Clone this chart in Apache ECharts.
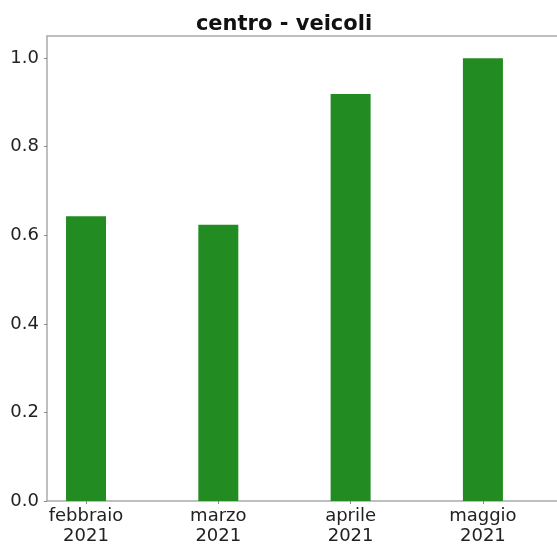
<!DOCTYPE html>
<html>
<head>
<meta charset="utf-8">
<script src="https://cdn.jsdelivr.net/npm/echarts@6/dist/echarts.min.js"></script>
<style>
html,body{margin:0;padding:0;background:#fff;}
#chart{width:557px;height:546px;}
</style>
</head>
<body>
<div id="chart"></div>
<script>
var categories = ['febbraio\n2021', 'marzo\n2021', 'aprile\n2021', 'maggio\n2021'];
var values = [0.643, 0.624, 0.919, 1.0];
var yTicks = [0, 0.2, 0.4, 0.6, 0.8, 1.0];
var titleText = 'centro - veicoli';

var chart = echarts.init(document.getElementById('chart'), null, {renderer: 'canvas'});
var font = 'DejaVu Sans';
var xMin = -0.295, xMax = 3.56;
chart.setOption({
  animation: false,
  backgroundColor: '#ffffff',
  title: {
    text: titleText,
    left: 279,
    top: 9,
    textAlign: 'center',
    textStyle: {fontFamily: font, fontWeight: 'bold', fontSize: 21, color: '#111'}
  },
  grid: {
    left: 47, top: 36, bottom: 42, right: 0,
    show: false, containLabel: false
  },
  xAxis: [{
    type: 'value',
    min: xMin, max: xMax,
    splitLine: {show: false},
    axisLine: {show: true, onZero: false, lineStyle: {color: '#aaaaaa', width: 1.5}},
    axisTick: {show: true, length: 3, lineStyle: {color: '#888'}, customValues: [0, 1, 2, 3]},
    axisLabel: {
      customValues: [0, 1, 2, 3],
      fontFamily: font, fontSize: 18, color: '#222', lineHeight: 20, margin: 5,
      formatter: function (v) {
        var i = Math.round(v);
        return (Math.abs(v - i) < 1e-6 && categories[i] !== undefined) ? categories[i] : '';
      }
    }
  }, {
    type: 'value',
    position: 'top',
    min: xMin, max: xMax,
    splitLine: {show: false},
    axisLine: {show: true, onZero: false, lineStyle: {color: '#aaaaaa', width: 1.5}},
    axisTick: {show: false},
    axisLabel: {show: false}
  }],
  yAxis: {
    type: 'value',
    min: 0, max: 1.05,
    interval: 0.2,
    splitLine: {show: false},
    axisLine: {show: true, onZero: false, lineStyle: {color: '#aaaaaa', width: 1.5}},
    axisTick: {show: true, length: 3, lineStyle: {color: '#888'}, customValues: yTicks},
    axisLabel: {
      customValues: yTicks,
      fontFamily: font, fontSize: 18, color: '#222', margin: 8,
      formatter: function (v) { return v.toFixed(1); }
    }
  },
  series: [{
    type: 'bar',
    xAxisIndex: 0,
    barWidth: 40,
    itemStyle: {color: '#228b22'},
    data: values.map(function (v, i) { return [i, v]; })
  }]
});
</script>
</body>
</html>
